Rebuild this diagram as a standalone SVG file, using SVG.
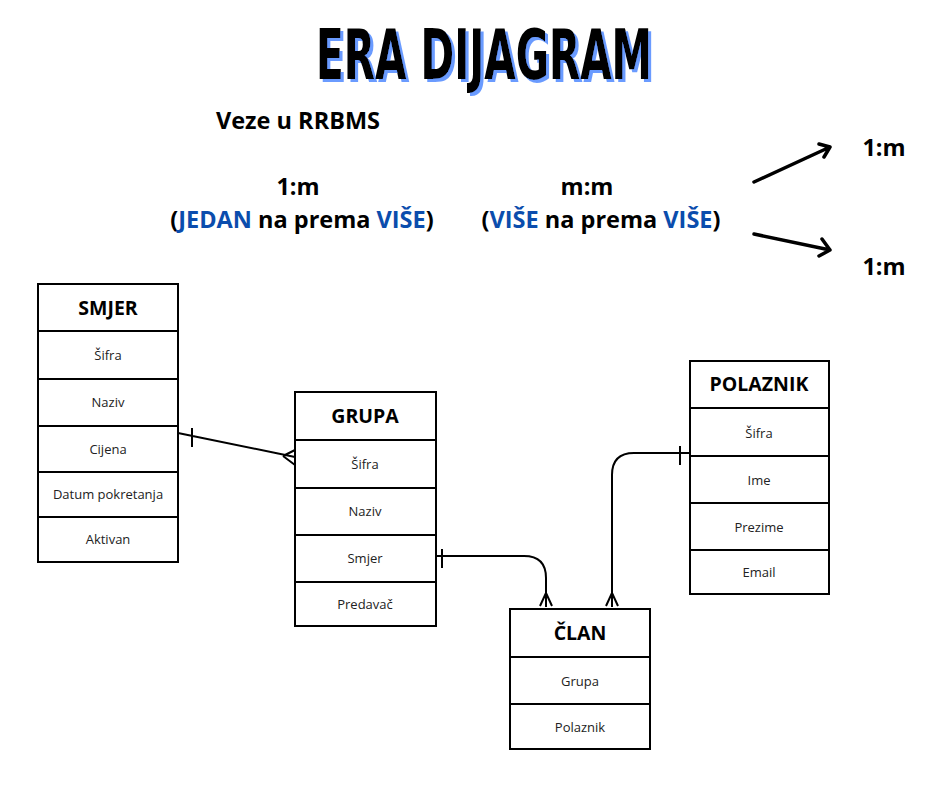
<svg xmlns="http://www.w3.org/2000/svg" width="931" height="785" viewBox="0 0 931 785">
<style>
.box{fill:#fff;stroke:#000;stroke-width:2}
.sep{stroke:#000;stroke-width:2}
.hd{font-family:"Open Sans","DejaVu Sans",sans-serif;font-weight:bold;font-size:19.5px;fill:#000;text-anchor:middle}
.row{font-family:"Open Sans","DejaVu Sans",sans-serif;font-size:13px;fill:#222;text-anchor:middle}
.lbl{font-family:"Open Sans","DejaVu Sans",sans-serif;font-weight:bold;font-size:23.5px;fill:#000;text-anchor:middle}
.blue{fill:#0b4dad}
.con{fill:none;stroke:#000;stroke-width:2}
.arr{fill:none;stroke:#000;stroke-width:3.5;stroke-linecap:round;stroke-linejoin:round}
.title{font-family:"DejaVu Sans","Liberation Sans",sans-serif;font-weight:bold;font-stretch:condensed;font-size:70px}
</style>
<defs>
<filter id="shadow" x="-5%" y="-20%" width="110%" height="140%">
<feOffset in="SourceAlpha" dx="3" dy="3" result="off"/>
<feFlood flood-color="#6b9bff"/>
<feComposite in2="off" operator="in" result="sh"/>
<feMerge><feMergeNode in="sh"/><feMergeNode in="SourceGraphic"/></feMerge>
</filter>
</defs>
<rect width="931" height="785" fill="#fff"/>
<g id="title">
<text class="title" x="316" y="79" textLength="336" lengthAdjust="spacingAndGlyphs" fill="#000" filter="url(#shadow)">ERA DIJAGRAM</text>
</g>
<g id="legend">
<text class="lbl" x="298" y="129">Veze u RRBMS</text>
<text class="lbl" x="298" y="195">1:m</text>
<text class="lbl" x="302" y="228">(<tspan class="blue">JEDAN</tspan> na prema <tspan class="blue">VIŠE</tspan>)</text>
<text class="lbl" x="587" y="195">m:m</text>
<text class="lbl" x="601" y="228">(<tspan class="blue">VIŠE</tspan> na prema <tspan class="blue">VIŠE</tspan>)</text>
<text class="lbl" x="884" y="156">1:m</text>
<text class="lbl" x="884" y="275">1:m</text>
<path class="arr" d="M754,182 L830,147 M819,144 L830,147 L824,157"/>
<path class="arr" d="M754,234 L830,250 M822,239 L830,250 L819,256"/>
</g>
<g id="smjer">
<rect class="box" x="38" y="284" width="140" height="278"/>
<path class="sep" d="M38,331H178M38,379H178M38,426H178M38,472H178M38,517H178"/>
<text class="hd" x="108" y="315">SMJER</text>
<text class="row" x="108" y="360">Šifra</text>
<text class="row" x="108" y="407">Naziv</text>
<text class="row" x="108" y="454">Cijena</text>
<text class="row" x="108" y="499">Datum pokretanja</text>
<text class="row" x="108" y="544">Aktivan</text>
</g>
<g id="grupa">
<rect class="box" x="295" y="392" width="141" height="234"/>
<path class="sep" d="M295,440H436M295,488H436M295,535H436M295,582H436"/>
<text class="hd" x="365" y="423">GRUPA</text>
<text class="row" x="365" y="469">Šifra</text>
<text class="row" x="365" y="516">Naziv</text>
<text class="row" x="365" y="563">Smjer</text>
<text class="row" x="365" y="609">Predavač</text>
</g>
<g id="clan">
<rect class="box" x="510" y="609" width="140" height="140"/>
<path class="sep" d="M510,657H650M510,704H650"/>
<text class="hd" x="580" y="640">ČLAN</text>
<text class="row" x="580" y="686">Grupa</text>
<text class="row" x="580" y="732">Polaznik</text>
</g>
<g id="polaznik">
<rect class="box" x="690" y="361" width="139" height="233"/>
<path class="sep" d="M690,408H829M690,456H829M690,503H829M690,550H829"/>
<text class="hd" x="759" y="391">POLAZNIK</text>
<text class="row" x="759" y="438">Šifra</text>
<text class="row" x="759" y="485">Ime</text>
<text class="row" x="759" y="532">Prezime</text>
<text class="row" x="759" y="577">Email</text>
</g>
<g id="connectors">
<path class="con" d="M178,433 L295,457 M192,428 V447 M283,456 L295,450 M283,456 L295,465"/>
<path class="con" d="M437,556 H524 Q546,556 546,578 V607 M442,549 V568 M546,593 L540,606 M546,593 L552,606"/>
<path class="con" d="M689,453 H634 Q612,453 612,475 V607 M680,446 V465 M612,593 L606,606 M612,593 L618,606"/>
</g>
</svg>
